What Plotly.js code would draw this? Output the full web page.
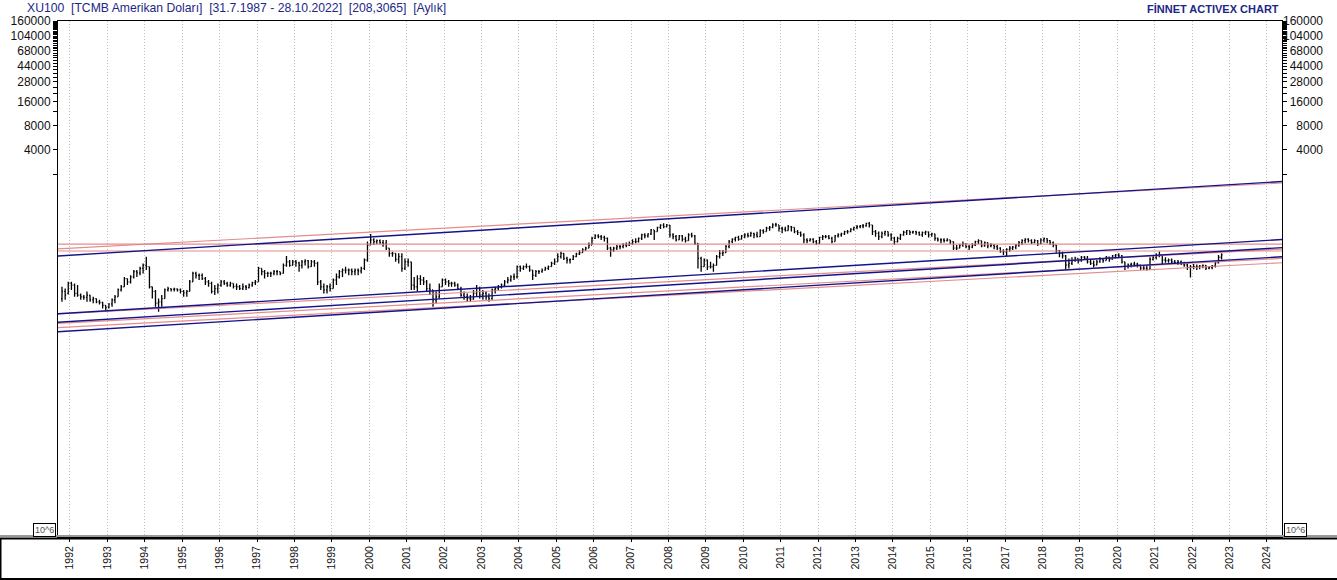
<!DOCTYPE html>
<html>
<head>
<meta charset="utf-8">
<script src="https://cdn.plot.ly/plotly-3.0.1.min.js"></script>
<style>
  html, body { margin: 0; padding: 0; background: #fff; }
  #chart { width: 1337px; height: 580px; }
</style>
</head>
<body>
<div id="chart"></div>
<script>
// monthly bars, first bar = Oct 1991, last bar = Oct 2022
const firstYear = 1991;
const firstMonth = 10;

const barOpen = [
  57, 70, 66,                                             // 1991
  88, 84, 66, 63, 60, 59, 63, 55, 57, 52, 51, 47,         // 1992
  44, 49, 55, 60, 73, 80, 101, 92, 106, 123, 119, 135,    // 1993
  147, 142, 80, 70, 50, 52, 57, 73, 76, 74, 75, 73,       // 1994
  70, 67, 70, 92, 117, 111, 111, 101, 92, 88, 70, 76,     // 1995
  84, 92, 88, 84, 88, 81, 80, 76, 80, 78, 84, 90,         // 1996
  92, 135, 123, 117, 117, 117, 123, 123, 117, 147, 163, 147,  // 1997
  163, 158, 147, 163, 168, 142, 163, 156, 92, 80, 73, 80,     // 1998
  76, 97, 106, 123, 129, 129, 129, 123, 129, 126, 135, 172,   // 1999
  264, 305, 291, 300, 282, 277, 241, 208, 208, 175, 189, 135, // 2000
  163, 163, 84, 80, 101, 97, 92, 76, 73, 55, 60, 80,          // 2001
  97, 92, 88, 88, 84, 76, 63, 60, 57, 56, 66, 76,             // 2002
  63, 66, 60, 57, 73, 76, 80, 84, 92, 97, 106, 106,           // 2003
  142, 135, 142, 142, 129, 111, 123, 123, 129, 135, 142, 156, // 2004
  163, 189, 208, 180, 172, 175, 189, 204, 212, 229, 241, 264, // 2005
  320, 343, 335, 328, 320, 241, 229, 241, 252, 252, 264, 264, // 2006
  277, 291, 291, 320, 352, 343, 363, 406, 388, 437, 466, 446, // 2007
  466, 352, 335, 305, 343, 311, 299, 352, 343, 277, 180, 142, // 2008
  172, 142, 142, 147, 189, 208, 212, 252, 291, 311, 328, 311, // 2009
  343, 352, 343, 369, 352, 335, 398, 388, 426, 437, 469, 469, // 2010
  426, 414, 398, 446, 437, 388, 376, 352, 305, 299, 311, 291, // 2011
  277, 328, 335, 335, 320, 291, 343, 352, 363, 388, 388, 414, // 2012
  437, 446, 455, 455, 491, 469, 388, 369, 335, 369, 388, 352, // 2013
  320, 291, 320, 352, 380, 398, 380, 388, 376, 352, 376, 384, // 2014
  352, 363, 320, 305, 305, 299, 305, 291, 241, 241, 264, 272, // 2015
  252, 248, 264, 291, 299, 257, 283, 257, 264, 252, 241, 218, // 2016
  218, 233, 241, 248, 264, 283, 299, 311, 299, 283, 299, 272, // 2017
  305, 317, 299, 283, 264, 225, 208, 193, 149, 156, 169, 180, // 2018
  169, 186, 180, 163, 156, 149, 163, 175, 169, 186, 175, 193, // 2019
  199, 193, 163, 142, 149, 153, 153, 149, 136, 136, 132, 175, // 2020
  186, 193, 199, 172, 169, 172, 163, 159, 163, 153, 149, 139, // 2021
  142, 142, 142, 145, 147, 136, 139, 145, 159, 186            // 2022
];

const barHigh = [
  80, 76, 92,
  92, 88, 84, 66, 63, 70, 63, 60, 57, 55, 52, 47,
  50, 57, 63, 76, 84, 106, 101, 111, 129, 129, 142, 156,
  189, 142, 80, 73, 57, 63, 76, 80, 76, 78, 76, 76,
  73, 73, 97, 123, 123, 117, 117, 106, 97, 92, 84, 88,
  97, 97, 92, 92, 88, 88, 84, 88, 84, 88, 92, 97,
  142, 135, 129, 123, 123, 129, 129, 123, 156, 193, 172, 172,
  172, 163, 172, 176, 172, 172, 172, 163, 97, 88, 84, 88,
  101, 117, 129, 135, 142, 135, 135, 135, 135, 142, 180, 291,
  362, 320, 310, 310, 305, 305, 241, 218, 208, 208, 208, 180,
  180, 163, 106, 111, 111, 106, 97, 88, 73, 70, 88, 101,
  101, 97, 92, 92, 88, 80, 70, 66, 63, 73, 84, 80,
  73, 70, 66, 76, 80, 84, 88, 97, 106, 111, 117, 147,
  147, 147, 156, 147, 129, 129, 129, 135, 142, 147, 163, 180,
  208, 218, 208, 189, 180, 199, 212, 229, 241, 252, 283, 335,
  360, 360, 352, 343, 328, 252, 252, 264, 264, 277, 283, 291,
  311, 320, 328, 363, 369, 369, 416, 406, 446, 479, 491, 480,
  469, 369, 352, 352, 352, 335, 369, 376, 352, 277, 189, 180,
  175, 163, 156, 199, 229, 229, 264, 305, 320, 335, 343, 352,
  369, 376, 386, 376, 386, 414, 414, 446, 455, 491, 500, 469,
  446, 446, 469, 455, 437, 406, 388, 369, 320, 320, 320, 305,
  335, 352, 352, 352, 335, 352, 369, 376, 398, 406, 426, 446,
  469, 469, 480, 500, 509, 469, 406, 388, 388, 398, 388, 369,
  335, 335, 363, 398, 406, 398, 398, 398, 388, 388, 398, 388,
  376, 363, 328, 320, 320, 320, 305, 291, 264, 272, 291, 277,
  264, 277, 299, 311, 299, 291, 283, 277, 272, 264, 248, 233,
  241, 257, 257, 272, 295, 311, 320, 320, 311, 311, 305, 320,
  327, 320, 305, 291, 264, 229, 218, 199, 180, 186, 189, 180,
  193, 193, 193, 175, 169, 172, 186, 180, 193, 189, 199, 204,
  208, 199, 163, 156, 159, 163, 159, 149, 145, 149, 186, 199,
  208, 220, 199, 186, 180, 180, 172, 172, 169, 163, 159, 149,
  153, 151, 149, 151, 149, 145, 149, 163, 199, 208
];

const barLow = [
  52, 55, 64,
  73, 60, 60, 55, 55, 52, 52, 50, 50, 48, 43, 41,
  43, 45, 50, 60, 70, 80, 84, 88, 101, 106, 111, 117,
  129, 76, 57, 45, 39, 45, 57, 70, 70, 70, 70, 66,
  60, 60, 70, 92, 101, 97, 97, 84, 80, 66, 63, 66,
  80, 84, 80, 80, 76, 73, 73, 73, 73, 76, 80, 84,
  92, 111, 101, 106, 106, 111, 111, 111, 117, 142, 142, 147,
  142, 123, 135, 147, 135, 142, 142, 84, 73, 66, 66, 70,
  76, 84, 101, 106, 117, 111, 111, 111, 111, 117, 129, 163,
  264, 264, 270, 270, 252, 229, 189, 189, 163, 156, 123, 129,
  142, 73, 73, 70, 84, 84, 70, 63, 45, 50, 57, 80,
  84, 80, 80, 80, 73, 60, 55, 52, 52, 55, 60, 57,
  55, 55, 52, 55, 66, 73, 76, 80, 88, 92, 97, 101,
  123, 129, 135, 123, 97, 106, 115, 119, 126, 129, 142, 149,
  163, 180, 172, 156, 156, 172, 186, 199, 212, 225, 241, 264,
  314, 320, 305, 291, 229, 189, 218, 229, 233, 241, 247, 257,
  264, 277, 283, 305, 320, 328, 352, 305, 388, 416, 426, 437,
  328, 311, 291, 305, 291, 283, 299, 328, 264, 135, 123, 142,
  129, 135, 123, 147, 180, 193, 212, 241, 277, 291, 299, 311,
  320, 328, 335, 320, 328, 335, 363, 388, 398, 426, 446, 388,
  369, 388, 398, 388, 369, 352, 335, 277, 277, 291, 277, 264,
  272, 305, 320, 311, 277, 291, 328, 335, 352, 363, 380, 398,
  414, 426, 426, 446, 437, 352, 335, 305, 320, 343, 335, 299,
  264, 283, 305, 343, 352, 352, 363, 352, 343, 335, 352, 328,
  335, 299, 291, 277, 283, 291, 272, 229, 229, 241, 252, 241,
  229, 241, 257, 272, 248, 252, 241, 248, 233, 229, 212, 199,
  193, 218, 229, 233, 252, 264, 277, 283, 272, 277, 257, 272,
  283, 277, 264, 248, 212, 186, 180, 129, 135, 149, 163, 156,
  163, 172, 156, 149, 139, 149, 159, 159, 169, 163, 175, 180,
  186, 156, 129, 135, 139, 142, 139, 129, 129, 127, 132, 169,
  175, 186, 149, 159, 159, 156, 153, 149, 149, 142, 129, 104,
  132, 129, 132, 136, 129, 132, 132, 139, 156, 175
];

const barClose = [
  70, 63, 88,
  84, 66, 63, 60, 59, 63, 55, 57, 52, 51, 47, 44,
  49, 55, 60, 73, 80, 101, 92, 106, 123, 119, 135, 147,
  142, 80, 70, 50, 52, 57, 73, 76, 74, 75, 73, 70,
  67, 70, 92, 117, 111, 111, 101, 92, 88, 70, 76, 84,
  92, 88, 84, 88, 81, 80, 76, 80, 78, 84, 90, 92,
  135, 123, 117, 117, 117, 123, 123, 117, 147, 163, 147, 163,
  158, 147, 163, 168, 142, 163, 156, 92, 80, 73, 80, 76,
  97, 106, 123, 129, 129, 129, 123, 129, 126, 135, 172, 264,
  305, 291, 300, 282, 277, 241, 208, 208, 175, 189, 135, 163,
  163, 84, 80, 101, 97, 92, 76, 73, 55, 60, 80, 97,
  92, 88, 88, 84, 76, 63, 60, 57, 56, 66, 76, 63,
  66, 60, 57, 73, 76, 80, 84, 92, 97, 106, 106, 142,
  135, 142, 142, 129, 111, 123, 123, 129, 135, 142, 156, 163,
  189, 208, 180, 172, 175, 189, 204, 212, 229, 241, 264, 320,
  343, 335, 328, 320, 241, 229, 241, 252, 252, 264, 264, 277,
  291, 291, 320, 352, 343, 363, 406, 388, 437, 466, 446, 466,
  352, 335, 305, 343, 311, 299, 352, 343, 277, 180, 142, 172,
  142, 142, 147, 189, 208, 212, 252, 291, 311, 328, 311, 343,
  352, 343, 369, 352, 335, 398, 388, 426, 437, 469, 469, 426,
  414, 398, 446, 437, 388, 376, 352, 305, 299, 311, 291, 277,
  328, 335, 335, 320, 291, 343, 352, 363, 388, 388, 414, 437,
  446, 455, 455, 491, 469, 388, 369, 335, 369, 388, 352, 320,
  291, 320, 352, 380, 398, 380, 388, 376, 352, 376, 384, 352,
  363, 320, 305, 305, 299, 305, 291, 241, 241, 264, 272, 252,
  248, 264, 291, 299, 257, 283, 257, 264, 252, 241, 218, 218,
  233, 241, 248, 264, 283, 299, 311, 299, 283, 299, 272, 305,
  317, 299, 283, 264, 225, 208, 193, 149, 156, 169, 180, 169,
  186, 180, 163, 156, 149, 163, 175, 169, 186, 175, 193, 199,
  193, 163, 142, 149, 153, 153, 149, 136, 136, 132, 175, 186,
  193, 199, 172, 169, 172, 163, 159, 163, 153, 149, 139, 142,
  142, 142, 145, 147, 136, 139, 145, 159, 186, 199
];

// trend lines: value at left edge / right edge of the chart
const lineStartDate = '1991-09-06';
const lineEndDate = '2024-05-27';
const blueLines = [
  [193, 1625],
  [37.0, 309],
  [29.0, 245],
  [22.1, 188.5]
];
const redLines = [
  [236, 1556],
  [270, 270],
  [222.5, 222.5],
  [36.7, 235],
  [28.1, 180],
  [24.8, 159]
];

const yearTicks = [];
for (let y = 1992; y <= 2024; y++) yearTicks.push(y);
const yLabels = [160000, 104000, 68000, 44000, 28000, 16000, 8000, 4000];

function barDates() {
  const out = [];
  let y = firstYear, m = firstMonth;
  for (let i = 0; i < barClose.length; i++) {
    out.push(`${y}-${String(m).padStart(2, '0')}-15`);
    m++;
    if (m > 12) { m = 1; y++; }
  }
  return out;
}

const data = [];
data.push({
  type: 'ohlc',
  x: barDates(),
  open: barOpen,
  high: barHigh,
  low: barLow,
  close: barClose,
  tickwidth: 0.35,
  increasing: { line: { color: '#000000', width: 1.3 } },
  decreasing: { line: { color: '#000000', width: 1.3 } },
  hoverinfo: 'skip',
  showlegend: false
});

redLines.forEach(pair => data.push({
  type: 'scatter', mode: 'lines', yaxis: 'y2',
  x: [lineStartDate, lineEndDate], y: pair,
  line: { color: 'rgba(226,128,128,0.9)', width: 1.2 },
  hoverinfo: 'skip', showlegend: false
}));
blueLines.forEach(pair => data.push({
  type: 'scatter', mode: 'lines', yaxis: 'y2',
  x: [lineStartDate, lineEndDate], y: pair,
  line: { color: '#14148a', width: 1.4 },
  hoverinfo: 'skip', showlegend: false
}));

// left axis: labelled ticks plus small unlabelled ones every 4000
const leftVals = [2000], leftText = [''];
for (let v = 4000; v <= 160000; v += 4000) {
  leftVals.push(v);
  leftText.push(yLabels.includes(v) ? String(v) : '');
}
const rightText = yLabels.map(v => '\u2007'.repeat(6 - String(v).length) + v);

const yRange = [Math.log10(0.0623), Math.log10(160000)];
const axisFont = { family: 'Arial, Liberation Sans, sans-serif', size: 12, color: '#111' };

const layout = {
  width: 1337,
  height: 580,
  margin: { l: 58, r: 55, t: 21, b: 43, pad: 0 },
  paper_bgcolor: '#ffffff',
  plot_bgcolor: '#ffffff',
  showlegend: false,
  title: {
    text: 'XU100\u00a0 [TCMB Amerikan Doları]\u00a0 [31.7.1987 - 28.10.2022]\u00a0 [208,3065]\u00a0 [Aylık]',
    x: 27 / 1337, xanchor: 'left',
    y: 1 - 8 / 580, yanchor: 'middle',
    font: { family: 'Arial, Liberation Sans, sans-serif', size: 12.2, color: '#1d2787' }
  },
  xaxis: {
    type: 'date',
    range: [lineStartDate, lineEndDate],
    rangeslider: { visible: false },
    tickvals: yearTicks.map(y => `${y}-01-01`),
    ticktext: yearTicks.map(String),
    tickangle: -90,
    tickfont: { family: 'Arial, Liberation Sans, sans-serif', size: 10.5, color: '#111' },
    ticks: 'outside', ticklen: 4, tickcolor: '#000',
    showgrid: true, gridcolor: '#bdbdbd', griddash: '1px,2px', gridwidth: 1,
    showline: true, linecolor: '#000', linewidth: 1, mirror: true,
    zeroline: false, fixedrange: true
  },
  yaxis: {
    type: 'log',
    range: yRange,
    tickmode: 'array',
    tickvals: leftVals,
    ticktext: leftText,
    tickfont: axisFont,
    ticks: 'outside', ticklen: 4, tickcolor: '#000',
    showline: true, linecolor: '#000', linewidth: 1, mirror: 'ticks',
    showgrid: false, zeroline: false, fixedrange: true
  },
  yaxis2: {
    type: 'log',
    range: yRange,
    overlaying: 'y',
    side: 'right',
    tickmode: 'array',
    tickvals: yLabels,
    ticktext: rightText,
    tickfont: axisFont,
    ticks: '',
    showline: false, showgrid: false, zeroline: false, fixedrange: true
  },
  annotations: [
    {
      xref: 'paper', yref: 'paper',
      x: (1281 - 58) / 1224, y: 1 + 12 / 516, xanchor: 'right', yanchor: 'middle',
      text: '<b>FİNNET ACTIVEX CHART</b>', showarrow: false,
      font: { family: 'Arial, Liberation Sans, sans-serif', size: 11, color: '#1d2787' }
    },
    {
      xref: 'paper', yref: 'paper',
      x: (44.5 - 58) / 1224, y: 7 / 516, xanchor: 'center', yanchor: 'middle',
      text: '10^6', showarrow: false, bgcolor: '#fff',
      bordercolor: '#000', borderwidth: 1, borderpad: 1,
      font: { family: 'Arial, Liberation Sans, sans-serif', size: 9, color: '#555' }
    },
    {
      xref: 'paper', yref: 'paper',
      x: (1295 - 58) / 1224, y: 7 / 516, xanchor: 'center', yanchor: 'middle',
      text: '10^6', showarrow: false, bgcolor: '#fff',
      bordercolor: '#000', borderwidth: 1, borderpad: 1,
      font: { family: 'Arial, Liberation Sans, sans-serif', size: 9, color: '#555' }
    }
  ],
  shapes: [
    // frame of the date strip at the bottom
    { type: 'line', xref: 'paper', yref: 'paper', x0: -58 / 1224, x1: 1 + 55 / 1224, y0: 1 / 516, y1: 1 / 516,
      line: { color: '#9a9a9a', width: 2 } },
    { type: 'line', xref: 'paper', yref: 'paper', x0: -58 / 1224, x1: 1 + 55 / 1224, y0: -1.5 / 516, y1: -1.5 / 516,
      line: { color: '#000', width: 2 } },
    { type: 'line', xref: 'paper', yref: 'paper', x0: -58 / 1224, x1: 1 + 55 / 1224, y0: -42 / 516, y1: -42 / 516,
      line: { color: '#000', width: 2 } },
    { type: 'line', xref: 'paper', yref: 'paper', x0: -57.5 / 1224, x1: -57.5 / 1224, y0: -1.5 / 516, y1: -42 / 516,
      line: { color: '#000', width: 2 } }
  ]
};

Plotly.newPlot('chart', data, layout, { displayModeBar: false, staticPlot: true });
</script>
</body>
</html>
